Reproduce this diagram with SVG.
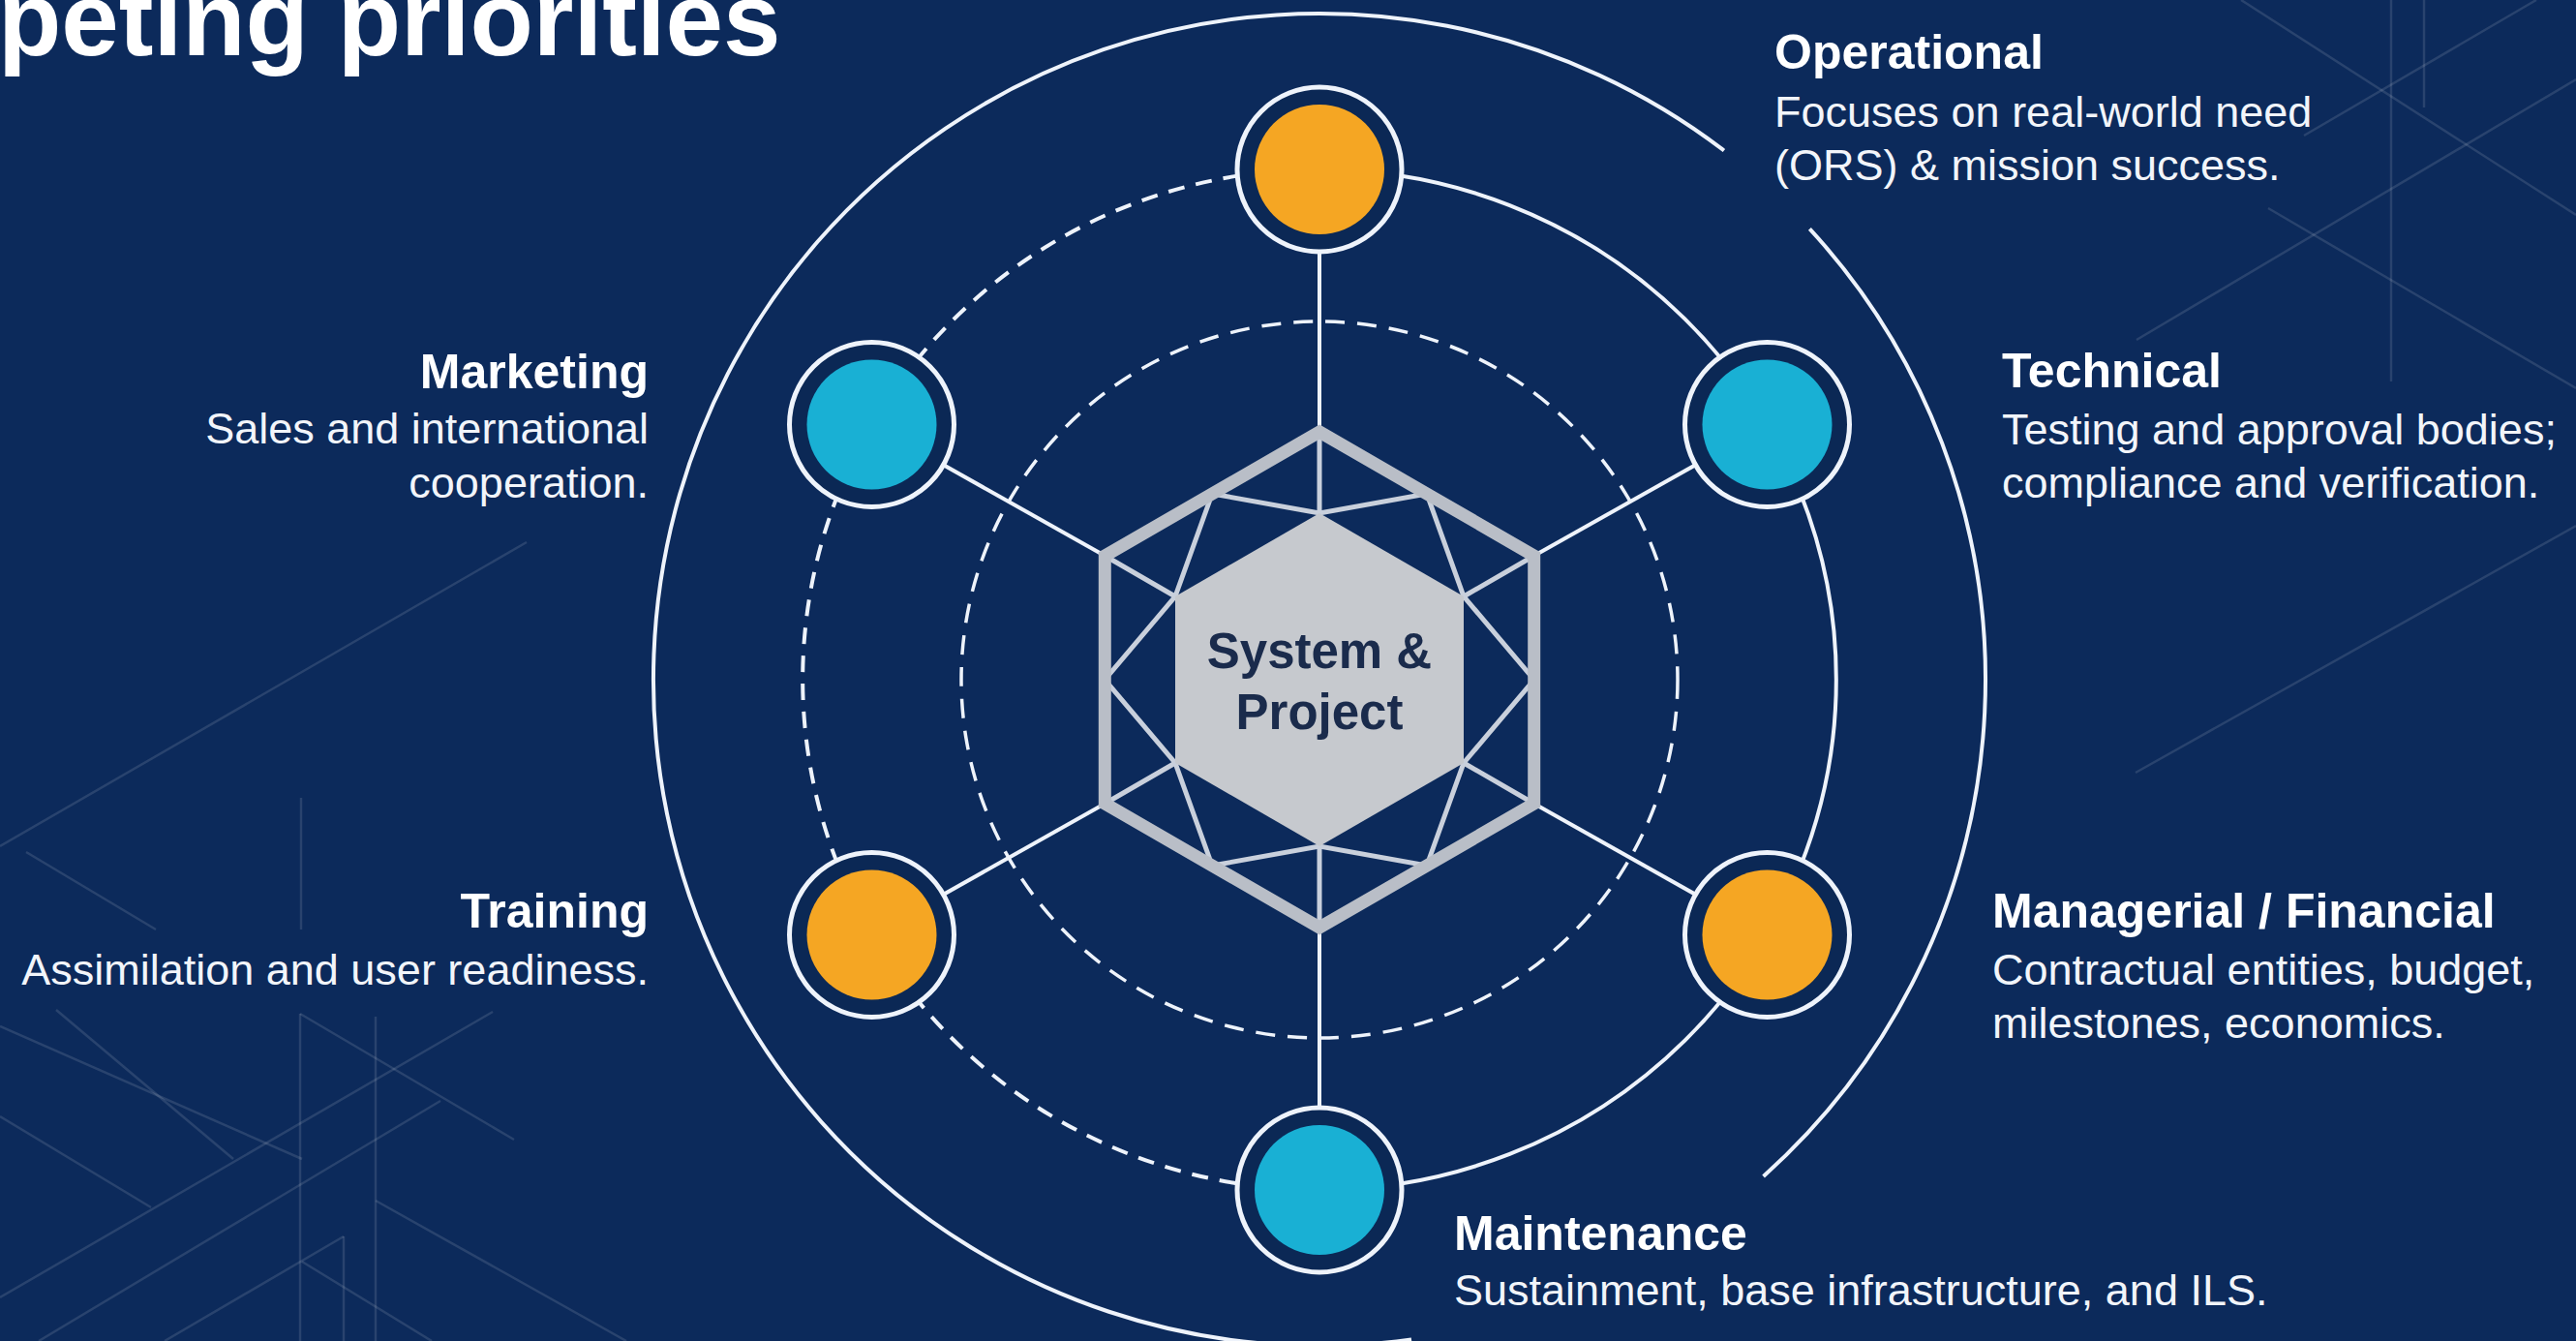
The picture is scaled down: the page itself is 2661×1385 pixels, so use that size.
<svg xmlns="http://www.w3.org/2000/svg" width="2661" height="1385" viewBox="0 0 2661 1385">
  <style>
    .bgline { stroke: #ffffff; stroke-opacity: 0.12; stroke-width: 2.5; fill: none; }
    .ring { fill: none; stroke: #eef3fb; stroke-width: 4; }
    .dash-node { stroke-dasharray: 17 12; }
    .dash-inner { stroke-dasharray: 20 13; stroke-width: 3.5; }
    .spoke { stroke: #eef3fb; stroke-width: 4; }
    .facet { stroke: #c9d0dc; stroke-width: 5; fill: none; stroke-linecap: round; }
    .frame { fill: none; stroke: #b9bec7; stroke-width: 13; stroke-linejoin: miter; }
    .core { fill: #c6c9ce; }
    .node-ring { fill: #0b2855; stroke: #eef3fb; stroke-width: 5; }
    .orange { fill: #f5a623; }
    .teal { fill: #19b0d4; }
    .head { font-family: "Liberation Sans", Arial, sans-serif; font-weight: bold; font-size: 50px; fill: #ffffff; }
    .desc { font-family: "Liberation Sans", Arial, sans-serif; font-size: 45px; fill: #f2f5fa; }
    .title { font-family: "Liberation Sans", Arial, sans-serif; font-weight: bold; font-size: 107px; fill: #ffffff; }
    .center { font-family: "Liberation Sans", Arial, sans-serif; font-weight: bold; font-size: 51px; fill: #1a2b4c; text-anchor: middle; }
    .end { text-anchor: end; }
  </style>

  <!-- backdrop -->
  <rect x="0" y="0" width="2661" height="1385" fill="#0c2a5b"/>

  <!-- faint lattice decoration -->
  <g id="lattice" class="bgline">
    <line x1="2315" y1="0" x2="2661" y2="222"/>
    <line x1="2207" y1="351" x2="2661" y2="82"/>
    <line x1="2343" y1="215" x2="2661" y2="401"/>
    <line x1="2470" y1="0" x2="2470" y2="394"/>
    <line x1="2504" y1="0" x2="2504" y2="111"/>
    <line x1="2380" y1="140" x2="2620" y2="0"/>
    <line x1="2206" y1="798" x2="2661" y2="543"/>
    <line x1="0" y1="874" x2="544" y2="560"/>
    <line x1="311" y1="824" x2="311" y2="960"/>
    <line x1="27" y1="880" x2="161" y2="960"/>
    <line x1="58" y1="1043" x2="241" y2="1197"/>
    <line x1="0" y1="1060" x2="312" y2="1197"/>
    <line x1="0" y1="1153" x2="156" y2="1247"/>
    <line x1="0" y1="1340" x2="509" y2="1045"/>
    <line x1="40" y1="1385" x2="455" y2="1137"/>
    <line x1="310" y1="1047" x2="310" y2="1385"/>
    <line x1="388" y1="1050" x2="388" y2="1385"/>
    <line x1="310" y1="1047" x2="531" y2="1177"/>
    <line x1="388" y1="1240" x2="647" y2="1385"/>
    <line x1="312" y1="1303" x2="446" y2="1385"/>
    <line x1="355" y1="1277" x2="355" y2="1385"/>
    <line x1="355" y1="1277" x2="170" y2="1385"/>
  </g>

  <!-- title (runs off the left edge) -->
  <text class="title" x="-2" y="57">peting priorities</text>

  <!-- orbits, spokes and connectors -->
  <g id="connectors">
    <!-- outer orbit, broken near the top-right and bottom-right -->
    <path class="ring" d="M 1780.9 155.5 A 688 688 0 1 0 1458 1383.4"/>
    <path class="ring" d="M 1869.4 236.3 A 688 688 0 0 1 1821.6 1214.9"/>
    <!-- node orbit: solid right half, dashed left half -->
    <path class="ring" d="M 1363 175 A 534 527 0 0 1 1363 1229"/>
    <path class="ring dash-node" d="M 1363 1229 A 534 527 0 0 1 1363 175"/>
    <!-- inner dashed orbit -->
    <circle class="ring dash-inner" cx="1363" cy="702" r="370"/>
    <!-- spokes from hexagon corners to nodes -->
    <line class="spoke" x1="1363" y1="446" x2="1363" y2="175"/>
    <line class="spoke" x1="1584.7" y1="574" x2="1825.5" y2="438.5"/>
    <line class="spoke" x1="1584.7" y1="830" x2="1825.5" y2="965.5"/>
    <line class="spoke" x1="1363" y1="958" x2="1363" y2="1229"/>
    <line class="spoke" x1="1141.3" y1="830" x2="900.5" y2="965.5"/>
    <line class="spoke" x1="1141.3" y1="574" x2="900.5" y2="438.5"/>
  </g>

  <!-- central hub -->
  <g id="hub">
    <g class="facet">
      <!-- corner to core -->
      <line x1="1363" y1="446" x2="1363" y2="530"/>
      <line x1="1584.7" y1="574" x2="1512" y2="616"/>
      <line x1="1584.7" y1="830" x2="1512" y2="788"/>
      <line x1="1363" y1="958" x2="1363" y2="874"/>
      <line x1="1141.3" y1="830" x2="1214" y2="788"/>
      <line x1="1141.3" y1="574" x2="1214" y2="616"/>
      <!-- core corners to edge midpoints -->
      <polyline points="1252.15,510 1363,530 1473.85,510 1512,616 1584.7,702 1512,788 1473.85,894 1363,874 1252.15,894 1214,788 1141.3,702 1214,616 1252.15,510"/>
    </g>
    <polygon class="frame" points="1363,446 1584.7,574 1584.7,830 1363,958 1141.3,830 1141.3,574"/>
    <polygon class="core" points="1363,530 1512,616 1512,788 1363,874 1214,788 1214,616"/>
    <text class="center" x="1363" y="690">System &amp;</text>
    <text class="center" x="1363" y="753">Project</text>
  </g>

  <!-- nodes -->
  <g id="node-operational">
    <circle class="node-ring" cx="1363" cy="175" r="85"/>
    <circle class="orange" cx="1363" cy="175" r="67"/>
    <text class="head" x="1833" y="71">Operational</text>
    <text class="desc" x="1833" y="131">Focuses on real-world need</text>
    <text class="desc" x="1833" y="186">(ORS) &amp; mission success.</text>
  </g>

  <g id="node-technical">
    <circle class="node-ring" cx="1825.5" cy="438.5" r="85"/>
    <circle class="teal" cx="1825.5" cy="438.5" r="67"/>
    <text class="head" x="2068" y="400">Technical</text>
    <text class="desc" x="2068" y="459">Testing and approval bodies;</text>
    <text class="desc" x="2068" y="514">compliance and verification.</text>
  </g>

  <g id="node-managerial">
    <circle class="node-ring" cx="1825.5" cy="965.5" r="85"/>
    <circle class="orange" cx="1825.5" cy="965.5" r="67"/>
    <text class="head" x="2058" y="958">Managerial / Financial</text>
    <text class="desc" x="2058" y="1017">Contractual entities, budget,</text>
    <text class="desc" x="2058" y="1072">milestones, economics.</text>
  </g>

  <g id="node-maintenance">
    <circle class="node-ring" cx="1363" cy="1229" r="85"/>
    <circle class="teal" cx="1363" cy="1229" r="67"/>
    <text class="head" x="1502" y="1291">Maintenance</text>
    <text class="desc" x="1502" y="1348">Sustainment, base infrastructure, and ILS.</text>
  </g>

  <g id="node-training">
    <circle class="node-ring" cx="900.5" cy="965.5" r="85"/>
    <circle class="orange" cx="900.5" cy="965.5" r="67"/>
    <text class="head end" x="670" y="958">Training</text>
    <text class="desc end" x="670" y="1017">Assimilation and user readiness.</text>
  </g>

  <g id="node-marketing">
    <circle class="node-ring" cx="900.5" cy="438.5" r="85"/>
    <circle class="teal" cx="900.5" cy="438.5" r="67"/>
    <text class="head end" x="670" y="401">Marketing</text>
    <text class="desc end" x="670" y="458">Sales and international</text>
    <text class="desc end" x="670" y="514">cooperation.</text>
  </g>
</svg>
